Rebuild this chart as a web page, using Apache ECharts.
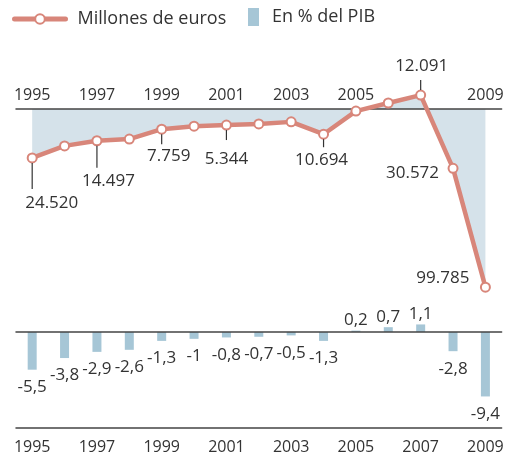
<!DOCTYPE html>
<html><head><meta charset="utf-8">
<script src="https://cdn.jsdelivr.net/npm/echarts@6/dist/echarts.min.js"></script>
<style>html,body{margin:0;padding:0;background:#fff}#c{width:507px;height:454px}</style>
</head><body><div id="c"></div>
<script>
// ---- data ----
const years = ['1995','1996','1997','1998','1999','2000','2001','2002','2003','2004','2005','2006','2007','2008','2009'];
const millonesEuros = [-24520, -17500, -14497, -13500, -7759, -6000, -5344, -4700, -3500, -10694, 2800, 7500, 12091, -30572, -99785];
const pctPIB = [-5.5, -3.8, -2.9, -2.6, -1.3, -1, -0.8, -0.7, -0.5, -1.3, 0.2, 0.7, 1.1, -2.8, -9.4];
const labeledYears = ['1995','1997','1999','2001','2004','2007','2008','2009'];
const topAxisHidden = ['2007'];

// ---- label placement (style only) ----
const placement = {
  '1995': {dx: -7, dy: 45, align: 'left', l0: 5, l1: 31},
  '1997': {dx: -15, dy: 40, align: 'left', l0: 5, l1: 27},
  '1999': {dx: 7, dy: 27, align: 'center', l0: 5, l1: 15},
  '2001': {dx: 0, dy: 34, align: 'center', l0: 5, l1: 15},
  '2004': {dx: -2, dy: 26, align: 'center', l0: 5, l1: 13},
  '2007': {dx: 1, dy: -29, align: 'center', l0: -5, l1: -15},
  '2008': {dx: -14, dy: 5, align: 'right'},
  '2009': {dx: -16, dy: -9, align: 'right'}
};

const FONT = '"Open Sans", "Noto Sans", sans-serif';
const TXT = '#333333';
const AXIS = '#444444';
const LINE_COLOR = '#d8867a';
const AREA_COLOR = '#d5e2ea';
const BAR_COLOR = '#a6c6d6';

function fmtThousands(v) {
  const s = String(Math.abs(Math.round(v)));
  return s.replace(/\B(?=(\d{3})+(?!\d))/g, '.');
}
function fmtPct(v) { return String(v).replace('.', ','); }

const labelData = labeledYears.map(y => {
  const i = years.indexOf(y);
  return [i, millonesEuros[i]];
});

const chart = echarts.init(document.getElementById('c'), null, {renderer: 'canvas'});
const axisLabelBase = {color: TXT, fontSize: 16, fontFamily: FONT};

chart.setOption({
  animation: false,
  backgroundColor: '#fff',
  textStyle: {fontFamily: FONT},
  legend: [
    {
      data: ['Millones de euros'], left: 12, top: 10, padding: 0,
      itemWidth: 51, itemHeight: 12,
      lineStyle: {width: 5, cap: 'round'},
      textStyle: {color: TXT, fontSize: 18, fontFamily: FONT, padding: [0, 0, 0, 7]},
      selectedMode: false
    },
    {
      data: ['En % del PIB'], left: 248, top: 8, padding: 0,
      icon: 'rect', itemWidth: 11, itemHeight: 18,
      textStyle: {color: TXT, fontSize: 18, fontFamily: FONT, padding: [4, 0, 0, 8]},
      selectedMode: false
    }
  ],
  grid: [
    {left: 16, right: 5.4, top: 109, height: 178.5, outerBoundsMode: 'none', containLabel: false},
    {left: 16, right: 5.4, top: 311.4, height: 116.6, outerBoundsMode: 'none', containLabel: false}
  ],
  xAxis: [
    {
      gridIndex: 0, type: 'category', data: years, position: 'top', boundaryGap: true, z: 2,
      axisLine: {onZero: false, lineStyle: {color: AXIS, width: 1.5}},
      axisTick: {inside: true, length: 5, lineStyle: {color: AXIS, width: 1.2}},
      axisLabel: Object.assign({margin: 6, interval: (idx, val) => idx % 2 === 0 && topAxisHidden.indexOf(val) < 0}, axisLabelBase),
      splitLine: {show: false}
    },
    {
      gridIndex: 1, type: 'category', data: years, position: 'bottom', boundaryGap: true,
      axisLine: {onZero: false, lineStyle: {color: AXIS, width: 1.5}},
      axisTick: {inside: true, length: 5, lineStyle: {color: AXIS, width: 1.2}},
      axisLabel: Object.assign({margin: 11, interval: 1}, axisLabelBase),
      splitLine: {show: false}
    },
    {
      gridIndex: 1, type: 'category', data: years, position: 'bottom', boundaryGap: true, z: 3,
      axisLine: {onZero: true, lineStyle: {color: AXIS, width: 1.5}},
      axisTick: {inside: false, length: 5, lineStyle: {color: AXIS, width: 1.2}},
      axisLabel: {show: false},
      splitLine: {show: false}
    }
  ],
  yAxis: [
    {gridIndex: 0, type: 'value', min: -100000, max: 4000, show: false},
    {gridIndex: 1, type: 'value', min: -14, max: 3, show: false}
  ],
  series: [
    {
      name: 'area', type: 'line', xAxisIndex: 0, yAxisIndex: 0, data: millonesEuros,
      symbol: 'none', lineStyle: {width: 0}, silent: true, clip: false, z: 1,
      areaStyle: {color: AREA_COLOR, opacity: 1, origin: 'end'}
    },
    {
      name: 'Millones de euros', type: 'line', xAxisIndex: 0, yAxisIndex: 0, data: millonesEuros,
      symbol: 'emptyCircle', symbolSize: 9, clip: false, z: 3,
      lineStyle: {color: LINE_COLOR, width: 4.5},
      itemStyle: {color: LINE_COLOR, borderWidth: 2}
    },
    {
      name: 'En % del PIB', type: 'bar', xAxisIndex: 1, yAxisIndex: 1, barWidth: 9,
      itemStyle: {color: BAR_COLOR},
      data: pctPIB.map(v => ({
        value: v,
        label: {position: v >= 0 ? 'top' : 'bottom', distance: v >= 0 ? 2 : 9}
      })),
      label: {show: true, color: TXT, fontSize: 17, fontFamily: FONT, formatter: p => fmtPct(p.value)}
    },
    {
      type: 'custom', xAxisIndex: 0, yAxisIndex: 0, data: labelData, z: 5, clip: false, silent: true,
      renderItem: function (params, api) {
        const i = api.value(0), v = api.value(1);
        const p = api.coord([i, v]);
        const s = placement[years[i]];
        const children = [];
        if (s.l0 != null) {
          children.push({type: 'line', shape: {x1: p[0], y1: p[1] + s.l0, x2: p[0], y2: p[1] + s.l1},
            style: {stroke: TXT, lineWidth: 1.2}});
        }
        children.push({type: 'text', x: p[0] + s.dx, y: p[1] + s.dy,
          style: {text: fmtThousands(v), fill: TXT, font: '17px ' + FONT, align: s.align, verticalAlign: 'middle'}});
        return {type: 'group', children: children};
      }
    }
  ]
});
</script>
</body></html>
